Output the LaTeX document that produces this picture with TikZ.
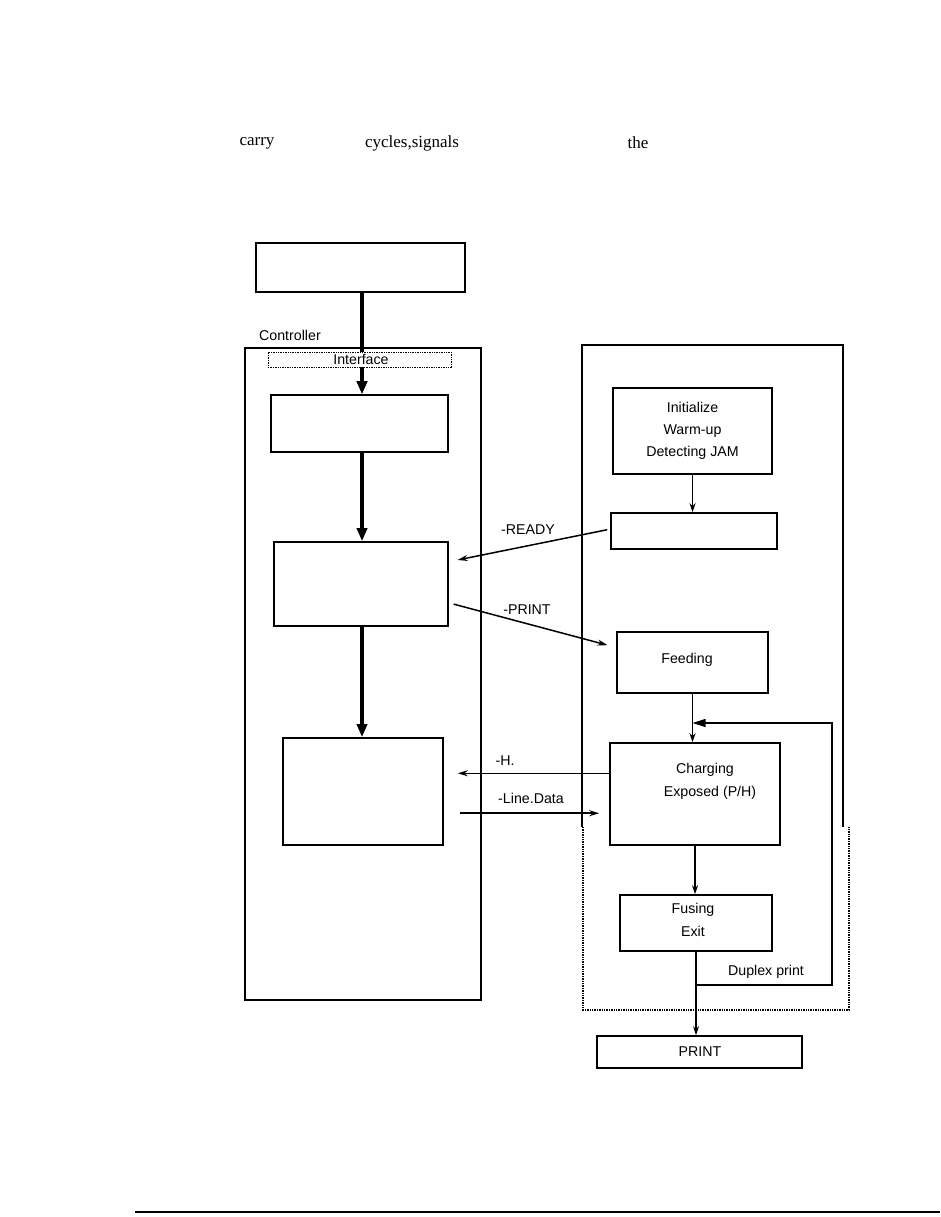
\documentclass[tikz,border=0pt]{standalone}
\usepackage{fontspec}
\setmainfont{Liberation Sans}
\newfontfamily\seriffont{Liberation Serif}
\usetikzlibrary{arrows.meta,calc}
\tikzset{
  box/.style={draw,line width=1.6pt,inner sep=0pt},
  frame/.style={draw,line width=1.8pt},
  dotframe/.style={draw,line width=1.4pt,densely dotted},
  lbl/.style={font=\fontsize{14.2}{16}\selectfont,inner sep=0pt},
  toptxt/.style={font=\seriffont\fontsize{17}{20}\selectfont,inner sep=0pt},
  thickarrow/.style={line width=4.5pt,-{Triangle[length=13pt,width=10pt]}},
  thinarrow/.style={line width=1.2pt,-{Stealth[length=9pt,width=6pt]}},
  sigarrow/.style={line width=1.5pt,-{Stealth[length=10pt,width=6pt]},shorten >=9pt},
  dupline/.style={line width=1.2pt},
}
\begin{document}
\begin{tikzpicture}[x=1pt,y=-1pt]
\useasboundingbox[fill=white] (0,0) rectangle (940,1217);

% header words
\node[toptxt] (w1) at (257,143) {carry};
\node[toptxt] (w2) at (412,143) {cycles,signals};
\node[toptxt] (w3) at (638,143) {the};

% controller side
\node[box,minimum width=209pt,minimum height=49pt] (top) at (360.5,267.5) {};
\node[lbl,anchor=west] (ctrllbl) at (259,335) {Controller};
\node[frame,minimum width=236pt,minimum height=652pt,inner sep=0pt] (ctrl) at (363,674) {};
\draw[thickarrow] (top.south -| 362,0) -- (362,394);
\node[dotframe,minimum width=183pt,minimum height=15pt,inner sep=0pt,line width=1pt,fill=white] (iface) at (359.5,359.5) {};
\node[lbl,fill=white,inner sep=1pt] (ifacelbl) at (361,359) {Interface};
\node[box,minimum width=177pt,minimum height=57pt] (b2) at (359.5,423.5) {};
\draw[thickarrow] (iface.south -| 362,0) -- (b2.north -| 362,0);
\node[box,minimum width=174pt,minimum height=84pt] (b3) at (361,584) {};
\node[box,minimum width=160pt,minimum height=107pt] (b4) at (363,791.5) {};

\draw[thickarrow] (b2.south -| 362,0) -- (b3.north -| 362,0);
\draw[thickarrow] (b3.south -| 362,0) -- (b4.north -| 362,0);

% printer side frame
\coordinate (pf1) at (582,827);
\coordinate (pf2) at (843,827);
\draw[line width=1.8pt] (pf1) -- (582,345) -- (843,345) -- (pf2);
\draw[dotframe] (583,827) -- (583,1010) -- (849,1010) -- (849,827);

\node[box,minimum width=159pt,minimum height=86pt,align=center,lbl] (init) at (692.5,431)
  {Initialize\\[6pt]Warm-up\\[6pt]Detecting JAM};
\node[box,minimum width=166pt,minimum height=36pt] (ready) at (694,531) {};
\node[box,minimum width=151pt,minimum height=61pt] (feed) at (692.5,662.5) {};
\node[lbl] (feedlbl) at (687,660) {Feeding};
\node[box,minimum width=170pt,minimum height=102pt] (charge) at (695,794) {};
\node[lbl] (chglbl) at (705,770) {Charging};
\node[lbl] (explbl) at (710,793) {Exposed (P/H)};
\node[box,minimum width=152pt,minimum height=56pt] (fuse) at (696,923) {};
\node[lbl] (fuselbl) at (693,910) {Fusing};
\node[lbl] (exitlbl) at (693,931) {Exit};
\node[box,minimum width=205pt,minimum height=32pt] (print) at (699.5,1052) {};
\node[lbl] (printlbl) at (700,1052) {PRINT};

\draw[thinarrow] (init.south) -- (init.south |- ready.north);
\draw[thinarrow] (feed.south) -- (feed.south |- charge.north);
\draw[thinarrow] (charge.south) -- (charge.south |- fuse.north);
\draw[thinarrow] (fuse.south) -- (fuse.south |- print.north);

% duplex return
\coordinate (dupa) at (fuse.south |- 0,985);
\coordinate (dupb) at (832,985);
\coordinate (dupc) at (832,723);
\draw[dupline,-{Triangle[length=13pt,width=8pt]}] (dupa) -- (dupb) -- (dupc) -- (dupc -| feed.south);
\node[lbl] (duplbl) at (766,972) {Duplex print};

% signals
\coordinate (rdA) at ($(ready.north west)!0.45!(ready.south west)$);
\coordinate (rdB) at ($(b3.north east)!0.24!(b3.south east)$);
\draw[sigarrow,shorten <=3pt] (rdA) -- (rdB);
\node[lbl] (readylbl) at (528,530) {-READY};

\coordinate (prA) at ($(b3.north east)!0.72!(b3.south east)$);
\coordinate (prB) at ($(feed.north west)!0.26!(feed.south west)$);
\draw[sigarrow,shorten <=5pt] (prA) -- (prB);
\node[lbl] (printsig) at (527,610) {-PRINT};

\coordinate (hA) at ($(charge.north west)!0.3!(charge.south west)$);
\draw[sigarrow,shorten >=14pt] (hA) -- (hA -| b4.east);
\node[lbl] (hlbl) at (505,761) {-H.};

\coordinate (ldA) at ($(b4.north east)!0.7!(b4.south east)$);
\draw[sigarrow,shorten <=16pt,shorten >=10pt] (ldA) -- (ldA -| charge.west);
\node[lbl] (ldlbl) at (531,798) {-Line.Data};

% footer rule
\coordinate (ruleA) at (135,1212);
\coordinate (ruleB) at (940,1212);
\draw[line width=1.5pt] (ruleA) -- (ruleB);
\end{tikzpicture}
\end{document}
